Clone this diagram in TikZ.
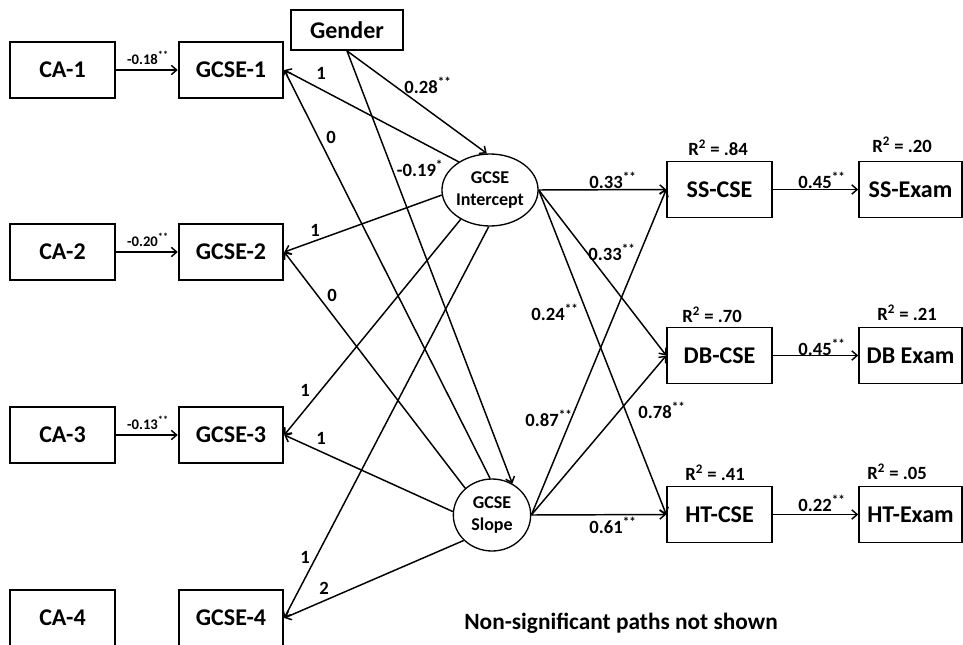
\documentclass[tikz,border=0pt]{standalone}
\usepackage{fontspec}
\setmainfont{Carlito}
\usetikzlibrary{arrows.meta,shapes.geometric}

\newcommand{\pstar}[1]{\textsuperscript{#1}}

\tikzset{every picture/.style={line width=0.75pt}}
\tikzset{
  varbox/.style={draw, line width=1.4pt, minimum width=78.5pt, minimum height=42pt, inner sep=0pt, font=\fontsize{18}{20}\selectfont\bfseries},
  latent/.style={draw, ellipse, line width=1pt, minimum width=58pt, minimum height=54pt, inner sep=0pt, align=center, font=\fontsize{13.5}{17}\selectfont\bfseries},
  arr/.style={-{Straight Barb[length=4pt,width=7pt]}, line width=1.1pt},
  coef/.style={inner sep=0.75pt, font=\fontsize{14}{16}\selectfont\bfseries},
  smallcoef/.style={inner sep=0.75pt, font=\fontsize{11}{13}\selectfont\bfseries},
  rsq/.style={inner sep=0.75pt, font=\fontsize{14}{16}\selectfont\bfseries},
}

\begin{document}
\begin{tikzpicture}[x=0.75pt,y=0.75pt,yscale=-1,xscale=1]
\useasboundingbox (0,0) rectangle (963,645);

% Observed boxes
\node[varbox] (ca1) at (62.5,70) {CA-1};
\node[varbox] (ca2) at (62.5,252) {CA-2};
\node[varbox] (ca3) at (62.5,435) {CA-3};
\node[varbox] (ca4) at (62.5,618) {CA-4};
\node[varbox] (gcse1) at (231,70) {GCSE-1};
\node[varbox] (gcse2) at (231,252) {GCSE-2};
\node[varbox] (gcse3) at (231,435) {GCSE-3};
\node[varbox] (gcse4) at (231,618) {GCSE-4};
\node[varbox, minimum width=84pt, minimum height=30pt] (gender) at (347,30) {Gender};
\node[varbox] (sscse) at (719.5,189.5) {SS-CSE};
\node[varbox] (dbcse) at (719.5,355.5) {DB-CSE};
\node[varbox] (htcse) at (719.5,514.5) {HT-CSE};
\node[varbox, minimum width=77pt] (ssexam) at (910.5,189.5) {SS-Exam};
\node[varbox, minimum width=77pt] (dbexam) at (910.5,355.5) {DB Exam};
\node[varbox, minimum width=77pt] (htexam) at (910.5,514.5) {HT-Exam};

% Latent growth factors
\node[latent] (icpt) at (490,190) {GCSE\\Intercept};
\node[latent] (slope) at (492,515) {GCSE\\Slope};

% CA -> GCSE
\draw[arr] (ca1) -- (gcse1);
\draw[arr] (ca2) -- (gcse2);
\draw[arr] (ca3) -- (gcse3);

% Loadings
\draw[arr] (icpt.138) -- (gcse1.east);
\draw[arr] (icpt.186) -- (gcse2.east);
\draw[arr] (icpt.225) -- (gcse3.east);
\draw[arr] (icpt.268) -- (gcse4.east);
\draw[arr] (slope.93) -- (gcse1.east);
\draw[arr] (slope.135) -- (gcse2.east);
\draw[arr] (slope.175) -- (gcse3.east);
\draw[arr] (slope.222) -- (gcse4.east);

% Gender
\draw[arr] (gender.south) -- (icpt.95);
\draw[arr] (gender.south) -- (slope.57);

% Growth factors -> CSE
\draw[arr] (icpt.east) -- (sscse.west);
\draw[arr] (icpt.east) -- (dbcse.west);
\draw[arr] (icpt.east) -- (htcse.west);
\draw[arr] (slope.east) -- (sscse.west);
\draw[arr] (slope.east) -- (dbcse.west);
\draw[arr] (slope.east) -- (htcse.west);

% CSE -> Exam
\draw[arr] (sscse) -- (ssexam);
\draw[arr] (dbcse) -- (dbexam);
\draw[arr] (htcse) -- (htexam);

% Text Node
\node[smallcoef] (l1) at (148,58) {-0.18\pstar{**}};
\node[smallcoef] (l2) at (148,240) {-0.20\pstar{**}};
\node[smallcoef] (l3) at (148,423) {-0.13\pstar{**}};
% Text Node
\node[coef] (i1) at (321,73) {1};
\node[coef] (s1) at (331,137) {0};
\node[coef] (i2) at (315,230) {1};
\node[coef] (s2) at (332,295) {0};
\node[coef] (i3) at (305,390) {1};
\node[coef] (s3) at (321,438) {1};
\node[coef] (i4) at (305,557) {1};
\node[coef] (s4) at (324,588) {2};
% Text Node
\node[coef] (g1) at (428,85) {0.28\pstar{**}};
\node[coef] (g2) at (420,168) {-0.19\pstar{*}};
% Text Node
\node[coef] (c1) at (613,180) {0.33\pstar{**}};
\node[coef] (c2) at (612,252) {0.33\pstar{**}};
\node[coef] (c3) at (555,312) {0.24\pstar{**}};
\node[coef] (c4) at (549,418) {0.87\pstar{**}};
\node[coef] (c5) at (662,410) {0.78\pstar{**}};
\node[coef] (c6) at (613,525) {0.61\pstar{**}};
% Text Node
\node[coef] (e1) at (822,180) {0.45\pstar{**}};
\node[coef] (e2) at (822,347) {0.45\pstar{**}};
\node[coef] (e3) at (822,503) {0.22\pstar{**}};
% Text Node
\node[rsq] (r1) at (718,148) {R\pstar{2} = .84};
\node[rsq] (r2) at (712,315) {R\pstar{2} = .70};
\node[rsq] (r3) at (715,473) {R\pstar{2} = .41};
\node[rsq] (r4) at (902,145) {R\pstar{2} = .20};
\node[rsq] (r5) at (907,313) {R\pstar{2} = .21};
\node[rsq] (r6) at (897,472) {R\pstar{2} = .05};
% Text Node
\node[inner sep=0.75pt, font=\fontsize{17.5}{20}\selectfont\bfseries] (note) at (621,623) {Non-significant paths not shown};

\end{tikzpicture}
\end{document}
